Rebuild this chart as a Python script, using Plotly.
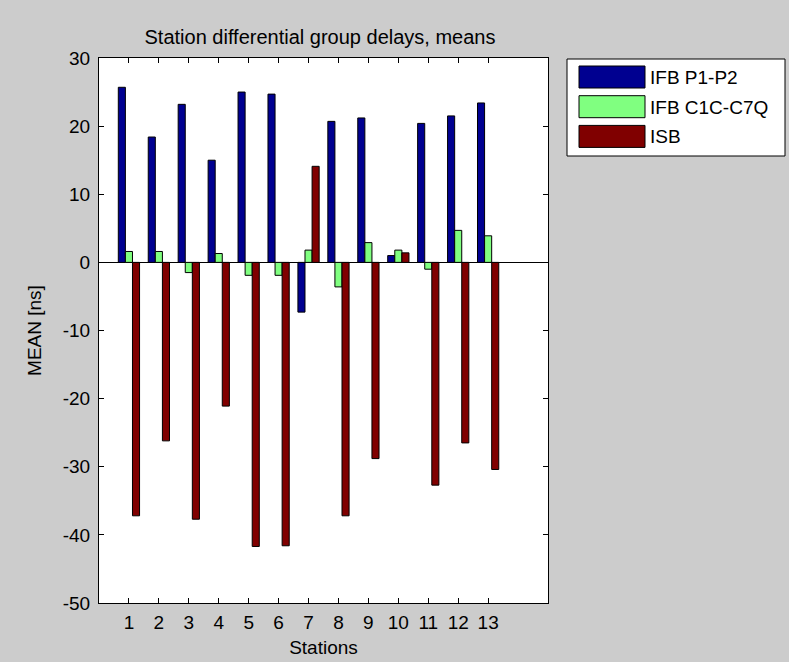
import plotly.graph_objects as go

stations = list(range(1, 14))
series_names = ["IFB P1-P2", "IFB C1C-C7Q", "ISB"]
ifb_p1p2 = [25.7, 18.4, 23.2, 15.0, 25.0, 24.7, -7.3, 20.7, 21.2, 1.0, 20.4, 21.5, 23.4]
ifb_c1c_c7q = [1.6, 1.6, -1.5, 1.3, -1.9, -1.9, 1.8, -3.6, 2.9, 1.8, -1.0, 4.7, 3.9]
isb = [-37.2, -26.2, -37.7, -21.1, -41.7, -41.6, 14.1, -37.2, -28.8, 1.4, -32.7, -26.5, -30.4]
y_ticks = [30, 20, 10, 0, -10, -20, -30, -40, -50]

colors = ["#000090", "#80ff80", "#800000"]
font = "Liberation Sans, Arial, sans-serif"

W, H = 789, 662
PL, PR, PT, PB = 99, 548, 58, 603

fig = go.Figure()
for name, vals, col in zip(series_names, [ifb_p1p2, ifb_c1c_c7q, isb], colors):
    fig.add_trace(go.Bar(x=stations, y=vals, name=name,
                         marker=dict(color=col, line=dict(color="black", width=1)),
                         showlegend=False))

# custom MATLAB-style legend (paper coords are relative to the plot area)
def px(x):
    return (x - PL) / (PR - PL)
def py(y):
    return (PB - y) / (PB - PT)

shapes = [dict(type="rect", xref="paper", yref="paper", x0=px(567), x1=px(785), y0=py(59), y1=py(156),
               line=dict(color="black", width=1), fillcolor="white", layer="above")]
annotations = []
for i, (name, col) in enumerate(zip(series_names, colors)):
    y0 = 66 + i * 29.7
    shapes.append(dict(type="rect", xref="paper", yref="paper", x0=px(579), x1=px(645), y0=py(y0), y1=py(y0 + 22),
                       line=dict(color="black", width=1), fillcolor=col, layer="above"))
    annotations.append(dict(xref="paper", yref="paper", x=px(648), y=py(y0 + 11.5), text=name, showarrow=False,
                            xanchor="left", yanchor="middle", font=dict(family=font, size=19, color="black")))

fig.update_layout(
    width=W, height=H,
    paper_bgcolor="#cccccc", plot_bgcolor="white",
    margin=dict(l=PL, r=W - PR, t=PT, b=H - PB),
    barmode="group", bargap=0.29, bargroupgap=0,
    font=dict(family=font, size=19, color="black"),
    title=dict(text="Station differential group delays, means", x=320 / W, xanchor="center",
               y=1 - 37 / H, yanchor="middle", font=dict(family=font, size=20, color="black")),
    shapes=shapes, annotations=annotations,
    xaxis=dict(range=[0, 15], tickvals=stations, ticktext=[str(s) for s in stations], ticks="inside", ticklen=5,
               tickcolor="black", showline=True, linecolor="black", linewidth=1, mirror="ticks", showgrid=False,
               zeroline=False, ticklabelstandoff=2, automargin=False,
               title=dict(text="Stations", standoff=8, font=dict(size=19))),
    yaxis=dict(range=[-50, 30], tickvals=y_ticks, ticktext=[str(v) for v in y_ticks], ticks="inside", ticklen=5,
               tickcolor="black", showline=True, linecolor="black", linewidth=1, mirror="ticks", showgrid=False,
               zeroline=True, zerolinecolor="black", zerolinewidth=1, ticklabelstandoff=4, automargin=False,
               title=dict(text="MEAN [ns]", standoff=16, font=dict(size=19))),
)

fig.write_html("out.html")
